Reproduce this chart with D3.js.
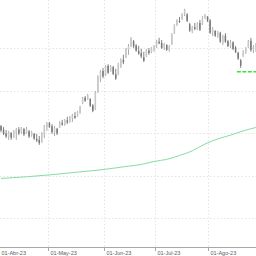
<!DOCTYPE html>
<html lang="es">
<head>
<meta charset="UTF-8">
<title>Velas</title>
<script src="https://cdn.jsdelivr.net/npm/d3@7/dist/d3.min.js"></script>
<style>
  html, body { margin: 0; padding: 0; background: #fff; }
  svg { display: block; }
  .lbl { font-family: "Liberation Sans", Arial, sans-serif; font-size: 5.5px; fill: #5a5a5a; }
</style>
</head>
<body>
<svg id="chart" width="256" height="256"></svg>
<script>
// daily candles, index 0 = first trading day shown
const opens = [181.6,180.8,179.9,179.0,180.0,179.1,180.2,180.8,180.1,180.9,180.0,180.4,179.4,179.8,178.6,178.4,177.9,179.5,181.4,182.3,
  181.6,180.0,181.0,181.4,182.4,181.9,183.0,182.6,183.5,184.0,183.9,184.8,187.0,188.3,187.9,188.0,186.5,185.6,189.8,193.0,
  194.6,193.6,195.8,194.6,195.5,193.8,193.8,195.6,197.2,197.8,199.6,200.5,201.6,200.6,199.3,198.8,197.8,198.1,199.4,199.0,
  199.6,200.3,201.5,201.2,200.1,200.7,199.5,200.9,203.4,205.4,206.4,206.8,208.0,207.9,205.6,204.0,204.9,204.4,205.9,205.6,
  207.2,207.4,206.5,203.8,204.0,202.7,203.6,201.2,202.9,201.6,200.4,201.3,200.1,198.9,197.1,198.0,199.1,200.2,201.7,199.4,200.2];
const highs = [181.9,181.4,180.7,180.5,180.2,180.7,181.2,181.4,181.4,181.2,181.4,180.7,180.5,180.0,179.8,179.3,180.2,181.9,182.6,182.6,
  182.1,181.7,181.2,182.8,183.1,183.3,183.8,184.0,184.5,184.9,185.2,186.4,188.5,188.7,189.2,188.2,186.8,189.9,193.6,194.8,
  195.3,196.0,196.2,196.0,195.8,195.1,196.5,197.6,198.4,200.0,200.9,202.6,201.9,200.9,200.5,199.8,199.1,199.8,200.0,200.2,
  200.7,201.9,202.4,201.9,201.2,200.9,200.7,203.5,205.6,206.8,207.3,208.2,209.2,208.2,205.9,205.2,205.9,206.1,206.6,207.5,
  208.0,207.5,206.8,204.9,204.2,204.0,203.8,203.1,203.5,201.9,201.9,201.6,200.5,199.1,197.4,199.5,200.2,201.9,202.4,200.7,201.2];
const lows = [180.2,179.5,178.8,178.4,178.4,178.8,178.4,179.5,179.8,179.3,179.8,178.8,179.1,178.4,177.9,177.2,177.7,178.8,180.5,181.2,
  179.8,179.3,179.5,181.2,181.7,181.7,182.1,182.4,182.6,183.3,183.8,184.5,186.8,187.3,187.8,186.1,184.9,185.4,189.4,192.0,
  192.9,193.4,193.9,194.4,193.6,192.5,193.6,195.3,196.2,197.6,198.4,200.2,200.0,199.1,198.4,197.6,196.7,197.9,198.4,198.8,
  199.1,200.0,200.9,199.8,199.5,199.3,199.1,200.7,203.3,205.2,205.9,206.6,207.5,206.1,203.8,203.5,204.2,204.2,204.0,205.4,
  206.8,206.1,203.3,202.8,202.6,202.4,201.2,200.7,201.2,200.2,200.0,199.5,198.8,197.2,195.3,197.9,198.6,200.0,199.1,198.8,199.1];
const closes = [180.6,179.8,179.2,180.1,178.9,180.4,180.9,179.9,181.1,179.7,181.0,179.2,180.2,178.7,178.2,177.6,179.8,181.6,182.2,181.5,
  180.2,181.2,179.9,182.5,182.0,183.0,182.5,183.7,184.2,183.6,185.0,186.1,188.2,187.6,188.9,186.4,185.2,189.6,193.2,194.4,
  193.3,195.7,194.2,195.7,193.9,192.8,196.2,197.3,196.6,199.7,200.5,202.2,200.4,199.4,198.7,198.0,197.0,199.5,198.8,199.9,
  200.4,201.6,201.1,200.0,200.9,199.6,200.4,203.2,205.3,206.5,206.1,207.9,208.9,206.4,204.1,204.9,204.5,205.8,204.3,207.2,
  207.7,206.4,203.6,204.5,202.9,203.7,201.5,202.8,201.5,200.5,201.5,199.8,199.0,197.5,195.8,199.2,199.9,201.6,199.5,200.3,200.9];

// moving average, read at these bar indices
const maIdx = [0, 10, 20, 30, 40, 50, 55, 60, 65, 70, 75, 80, 85, 90, 95, 100];
const maVal = [169.3, 169.7, 170.2, 170.8, 171.4, 172.2, 172.6, 173.3, 173.8, 174.7, 175.8, 177.4, 178.6, 179.5, 180.5, 181.3];

// horizontal level (dashed)
const levelVal = 194.4;
const levelFrom = 92.5;

const priceTicks = [160, 170, 180, 190, 200];
const monthIdx = [-0.8, 18.4, 40.4, 60.4, 81.2];
const monthLbl = ["01-Abr-23", "01-May-23", "01-Jun-23", "01-Jul-23", "01-Ago-23"];

const width = 256, height = 256;
const axisY = 247;

const x = d3.scaleLinear().domain([0, 100]).range([1, 256]);
const y = d3.scaleLinear().domain([160, 200]).range([218, 48]);

const svg = d3.select('#chart');

// grid
const grid = svg.append('g').attr('stroke', '#dedede').attr('stroke-width', 0.8).attr('stroke-dasharray', '1.5,2');
grid.selectAll('line.h').data(priceTicks).enter().append('line')
  .attr('x1', 0).attr('x2', width)
  .attr('y1', d => Math.round(y(d)) + 0.5).attr('y2', d => Math.round(y(d)) + 0.5);
grid.selectAll('line.v').data(monthIdx.slice(1)).enter().append('line')
  .attr('x1', d => Math.round(x(d)) + 0.5).attr('x2', d => Math.round(x(d)) + 0.5)
  .attr('y1', 0).attr('y2', axisY);

// moving average
const ma = maIdx.map((d, i) => ({ i: d, v: maVal[i] }));
svg.append('path').datum(ma)
  .attr('fill', 'none').attr('stroke', '#86dca8').attr('stroke-width', 1)
  .attr('d', d3.line().x(d => x(d.i)).y(d => y(d.v)).curve(d3.curveMonotoneX));

// candles
const bars = opens.map((o, i) => ({ i, o, h: highs[i], l: lows[i], c: closes[i] }));
const g = svg.append('g');
g.selectAll('line.wick').data(bars).enter().append('line')
  .attr('x1', d => x(d.i)).attr('x2', d => x(d.i))
  .attr('y1', d => y(d.h)).attr('y2', d => y(d.l))
  .attr('stroke', d => d.c >= d.o ? '#a0a0a0' : '#767676').attr('stroke-width', 0.9);
g.selectAll('rect').data(bars).enter().append('rect')
  .attr('x', d => x(d.i) - 0.75).attr('width', 1.5)
  .attr('y', d => y(Math.max(d.o, d.c)))
  .attr('height', d => Math.max(0.8, Math.abs(y(d.o) - y(d.c))))
  .attr('fill', d => d.c >= d.o ? '#c8c8c8' : '#787878');

// level
svg.append('line')
  .attr('x1', x(levelFrom)).attr('x2', width)
  .attr('y1', y(levelVal)).attr('y2', y(levelVal))
  .attr('stroke', '#3ae23a').attr('stroke-width', 1.6).attr('stroke-dasharray', '4,1.5');

// x axis
svg.append('line').attr('x1', 0).attr('x2', width).attr('y1', axisY + 0.5).attr('y2', axisY + 0.5)
  .attr('stroke', '#a8a8a8').attr('stroke-width', 1);
svg.selectAll('line.tk').data(monthIdx).enter().append('line')
  .attr('x1', d => Math.round(x(d)) + 0.5).attr('x2', d => Math.round(x(d)) + 0.5)
  .attr('y1', axisY).attr('y2', axisY + 4)
  .attr('stroke', '#a8a8a8');
svg.selectAll('text.lbl').data(monthIdx).enter().append('text')
  .attr('class', 'lbl')
  .attr('x', d => Math.round(x(d)) + 2.5).attr('y', 255)
  .text((d, i) => monthLbl[i]);
</script>
</body>
</html>
